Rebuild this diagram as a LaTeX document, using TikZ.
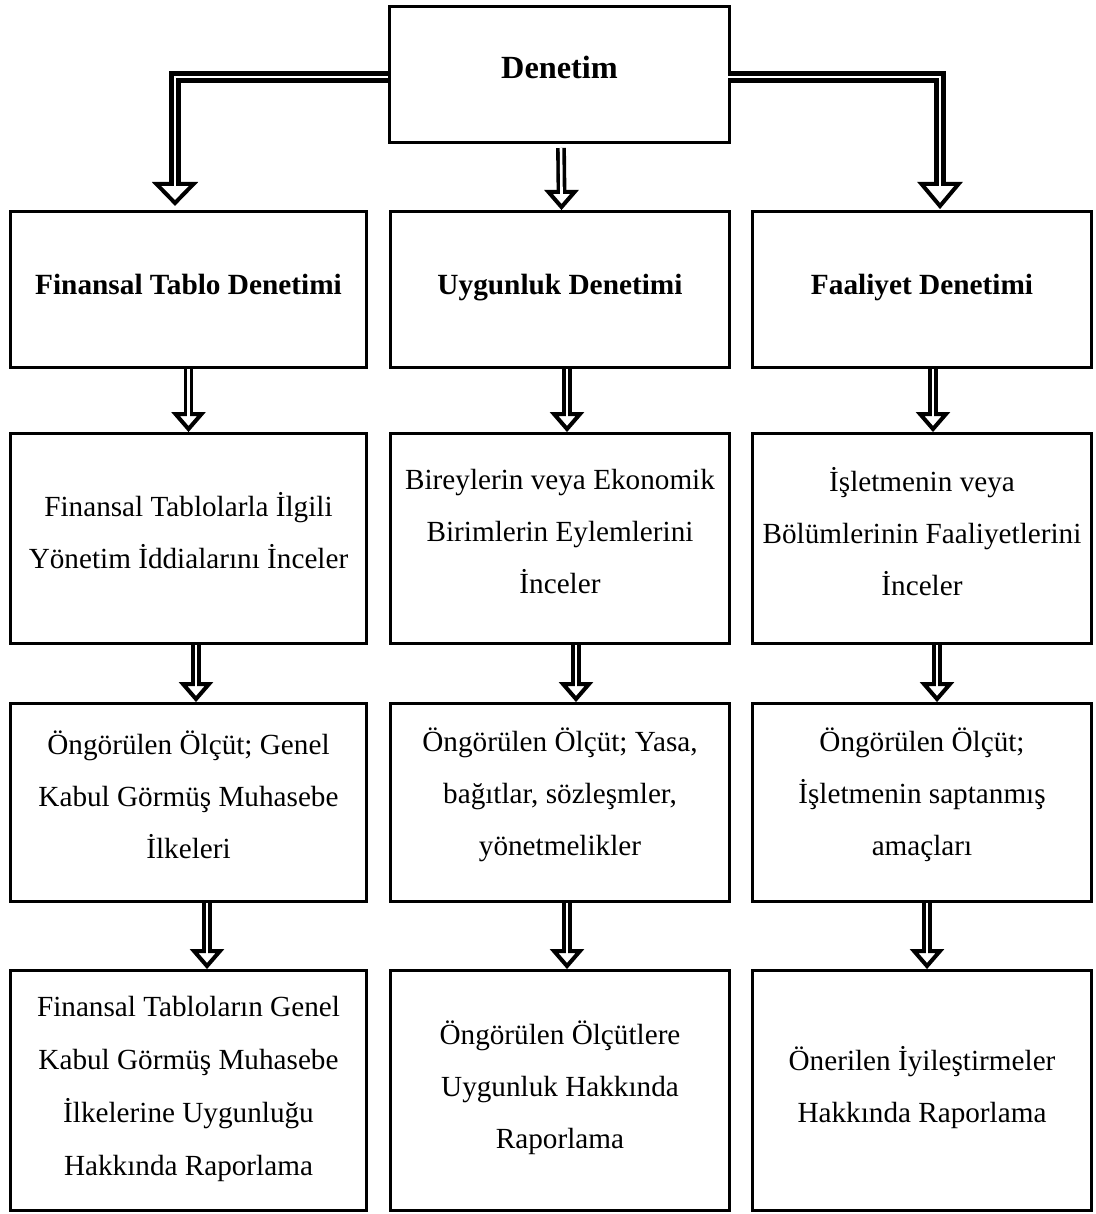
\documentclass[tikz,border=0pt]{standalone}
\usepackage{fontspec}
\setmainfont{Liberation Serif}
\usetikzlibrary{calc}
\tikzset{
 box/.style={draw, line width=3pt, inner sep=0pt},
 txt/.style={inner sep=0pt, align=center, font=\fontsize{29.2}{52}\selectfont},
 titletxt/.style={inner sep=0pt, align=center, font=\fontsize{29.3}{52}\selectfont\bfseries},
 smallshaft/.style={line width=3.6pt, double=white, double distance=2.6pt},
 bigshaft/.style={line width=5pt, double=white, double distance=2.5pt, line join=miter},
 arrowhead/.style={line width=4pt, fill=white, line join=miter},
 gapfill/.style={white, line width=2.6pt},
}
\newcommand{\dnarrow}[3]{%
 \draw[smallshaft] ($(#1.south)+(#3,0)$) -- ($(#2.north)+(#3,-18)$);
 \draw[arrowhead] ($(#2.north)+(#3-13,-18)$) -- ($(#2.north)+(#3,-3)$) -- ($(#2.north)+(#3+13,-18)$) -- cycle;
 \draw[gapfill] ($(#2.north)+(#3,-21)$) -- ($(#2.north)+(#3,-11)$);
}
\begin{document}
\begin{tikzpicture}[x=1pt,y=-1pt]
\useasboundingbox[fill=white] (0,0) rectangle (1095,1214);
% boxes
\node[box, minimum width=340, minimum height=136] (top) at (559.5,74.5) {};
\node[box, minimum width=356, minimum height=156] (fin) at (188.5,289.5) {};
\node[box, minimum width=339, minimum height=156] (uyg) at (560,289.5) {};
\node[box, minimum width=339, minimum height=156] (fal) at (922,289.5) {};
\node[box, minimum width=356, minimum height=210] (fin2) at (188.5,538.5) {};
\node[box, minimum width=339, minimum height=210] (uyg2) at (560,538.5) {};
\node[box, minimum width=339, minimum height=210] (fal2) at (922,538.5) {};
\node[box, minimum width=356, minimum height=198] (fin3) at (188.5,802.5) {};
\node[box, minimum width=339, minimum height=198] (uyg3) at (560,802.5) {};
\node[box, minimum width=339, minimum height=198] (fal3) at (922,802.5) {};
\node[box, minimum width=356, minimum height=240] (fin4) at (188.5,1090.5) {};
\node[box, minimum width=339, minimum height=240] (uyg4) at (560,1090.5) {};
\node[box, minimum width=339, minimum height=240] (fal4) at (922,1090.5) {};
% texts
\node[titletxt, font=\fontsize{32.3}{52}\selectfont\bfseries, anchor=base] (topt) at ($(top)+(0,4)$) {Denetim};
\node[titletxt, anchor=base] (fint) at ($(fin)+(0,5)$) {Finansal Tablo Denetimi};
\node[titletxt, anchor=base] (uygt) at ($(uyg)+(0,5)$) {Uygunluk Denetimi};
\node[titletxt, anchor=base] (falt) at ($(fal)+(0,5)$) {Faaliyet Denetimi};
\node[txt] (fin2t) at ($(fin2)+(0,-8)$) {Finansal Tablolarla İlgili\\Yönetim İddialarını İnceler};
\node[txt] (uyg2t) at ($(uyg2)+(0,-7)$) {Bireylerin veya Ekonomik\\Birimlerin Eylemlerini\\İnceler};
\node[txt] (fal2t) at ($(fal2)+(0,-7)$) {İşletmenin veya\\Bölümlerinin Faaliyetlerini\\İnceler};
\node[txt] (fin3t) at ($(fin3)+(0,-8)$) {Öngörülen Ölçüt; Genel\\Kabul Görmüş Muhasebe\\İlkeleri};
\node[txt] (uyg3t) at ($(uyg3)+(0,-8)$) {Öngörülen Ölçüt; Yasa,\\bağıtlar, sözleşmler,\\yönetmelikler};
\node[txt] (fal3t) at ($(fal3)+(0,-8)$) {Öngörülen Ölçüt;\\İşletmenin saptanmış\\amaçları};
\node[txt, font=\fontsize{29.2}{53}\selectfont] (fin4t) at ($(fin4)+(0,-2)$) {Finansal Tabloların Genel\\Kabul Görmüş Muhasebe\\İlkelerine Uygunluğu\\Hakkında Raporlama};
\node[txt] (uyg4t) at ($(uyg4)+(0,-3)$) {Öngörülen Ölçütlere\\Uygunluk Hakkında\\Raporlama};
\node[txt] (fal4t) at ($(fal4)+(0,-3)$) {Önerilen İyileştirmeler\\Hakkında Raporlama};

% big bent arrows
\draw[bigshaft] ($(top.west)+(0,2.5)$) -| ($(fin.north)+(-13.5,-26)$);
\draw[arrowhead] ($(fin.north)+(-32,-26)$) -- ($(fin.north)+(-13.5,-7)$) -- ($(fin.north)+(5,-26)$) -- cycle;
\draw[gapfill, line width=2.5pt] ($(fin.north)+(-13.5,-29)$) -- ($(fin.north)+(-13.5,-17)$);

\draw[bigshaft] ($(top.east)+(-3,2.5)$) -| ($(fal.north)+(18,-26)$);
\draw[arrowhead] ($(fal.north)+(-0.5,-26)$) -- ($(fal.north)+(18,-4)$) -- ($(fal.north)+(36.5,-26)$) -- cycle;
\draw[gapfill, line width=2.5pt] ($(fal.north)+(18,-29)$) -- ($(fal.north)+(18,-17)$);

% top to middle
\draw[smallshaft] ($(top.south)+(1.5,4)$) -- ($(uyg.north)+(1.5,-18)$);
\draw[arrowhead] ($(uyg.north)+(-11.5,-18)$) -- ($(uyg.north)+(1.5,-3)$) -- ($(uyg.north)+(14.5,-18)$) -- cycle;
\draw[gapfill] ($(uyg.north)+(1.5,-21)$) -- ($(uyg.north)+(1.5,-11)$);

% small arrows
\dnarrow{fin}{fin2}{0}
\dnarrow{uyg}{uyg2}{7}
\dnarrow{fal}{fal2}{11}
\dnarrow{fin2}{fin3}{7.5}
\dnarrow{uyg2}{uyg3}{16}
\dnarrow{fal2}{fal3}{15}
\dnarrow{fin3}{fin4}{18.5}
\dnarrow{uyg3}{uyg4}{7}
\dnarrow{fal3}{fal4}{5}
\end{tikzpicture}
\end{document}
